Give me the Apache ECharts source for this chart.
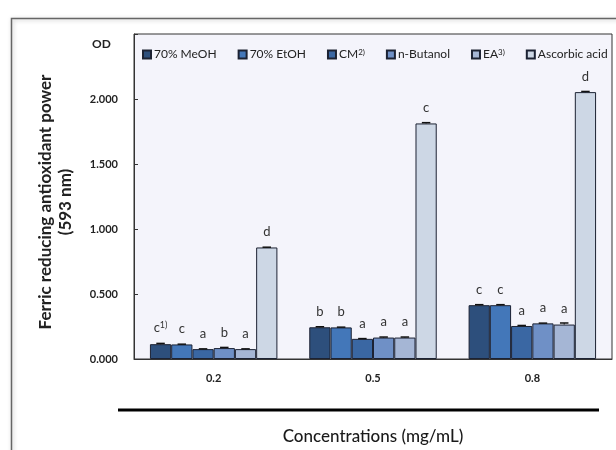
<!DOCTYPE html>
<html>
<head>
<meta charset="utf-8">
<script src="https://cdn.jsdelivr.net/npm/echarts@6/dist/echarts.min.js"></script>
<style>
  html, body { margin: 0; padding: 0; background: #fff; }
  #chart { width: 616px; height: 450px; }
</style>
</head>
<body>
<div id="chart"></div>
<script>
const concentrations = ['0.2', '0.5', '0.8'];
const seriesNames = ['70% MeOH', '70% EtOH', 'CM', 'n-Butanol', 'EA', 'Ascorbic acid'];

// OD values
const meoh = [0.114, 0.244, 0.414];
const etoh = [0.112, 0.243, 0.414];
const cm = [0.076, 0.155, 0.254];
const butanol = [0.084, 0.165, 0.274];
const ea = [0.076, 0.165, 0.265];
const ascorbic = [0.858, 1.812, 2.053];

// small error bars
const meohErr = [0.006, 0.004, 0.004];
const etohErr = [0.002, 0.002, 0.004];
const cmErr = [0.002, 0.002, 0.004];
const butanolErr = [0.005, 0.004, 0.002];
const eaErr = [0.002, 0.004, 0.012];
const ascorbicErr = [0.002, 0.006, 0.005];

// significance letters
const meohLetters = ['c', 'b', 'c'];
const etohLetters = ['c', 'b', 'c'];
const cmLetters = ['a', 'a', 'a'];
const butanolLetters = ['b', 'a', 'a'];
const eaLetters = ['a', 'a', 'a'];
const ascorbicLetters = ['d', 'c', 'd'];

const colors = ['#2d4f7c', '#4377b9', '#3a67a3', '#6f90c6', '#a5b6d5', '#cdd7e5'];

const values = [meoh, etoh, cm, butanol, ea, ascorbic];
const errors = [meohErr, etohErr, cmErr, butanolErr, eaErr, ascorbicErr];
const letters = [meohLetters, etohLetters, cmLetters, butanolLetters, eaLetters, ascorbicLetters];

const chart = echarts.init(document.getElementById('chart'));
const font = 'Lato, "Open Sans", sans-serif';
const gap = 0.2;

const barSeries = seriesNames.map((name, i) => ({
  name: name,
  type: 'bar',
  data: values[i],
  barGap: '0%',
  barCategoryGap: (gap * 100) + '%',
  itemStyle: { color: colors[i], borderColor: '#1c2233', borderWidth: 1 },
  label: {
    show: true,
    position: 'top',
    distance: 9,
    fontFamily: font,
    fontSize: 13,
    color: '#333',
    formatter: p => {
      const l = letters[i][p.dataIndex];
      return (i === 0 && p.dataIndex === 0) ? l + '{sup|1)}' : l;
    },
    rich: { sup: { fontSize: 9, verticalAlign: 'top', color: '#333', fontFamily: font, padding: [0, 0, 6, 0] } }
  },
  z: 2
}));

const errorSeries = seriesNames.map((name, i) => ({
  type: 'custom',
  name: name + ' err',
  data: values[i].map((v, k) => [k, v, errors[i][k]]),
  z: 3,
  silent: true,
  renderItem: (params, api) => {
    const k = api.value(0);
    const v = api.value(1);
    const e = api.value(2);
    const bandW = api.size([1, 0])[0];
    const bw = bandW * (1 - gap) / seriesNames.length;
    const base = api.coord([k, v]);
    const top = api.coord([k, v + e]);
    const x = base[0] + (i - (seriesNames.length - 1) / 2) * bw;
    const cap = bw * 0.2;
    return {
      type: 'group',
      children: [
        { type: 'line', shape: { x1: x, y1: base[1], x2: x, y2: top[1] }, style: { stroke: '#111', lineWidth: 1 } },
        { type: 'line', shape: { x1: x - cap, y1: top[1], x2: x + cap, y2: top[1] }, style: { stroke: '#111', lineWidth: 1.5 } }
      ]
    };
  }
}));

const option = {
  animation: false,
  backgroundColor: '#fff',
  textStyle: { fontFamily: font },
  grid: {
    left: 134, right: 4, top: 34, bottom: 88,
    show: true, backgroundColor: '#f4f4fb', borderColor: '#333', borderWidth: 1
  },
  legend: {
    data: seriesNames,
    left: 137, top: 43,
    itemWidth: 8, itemHeight: 8, itemGap: 21,
    icon: 'rect',
    textStyle: {
      fontFamily: font, fontSize: 12, color: '#222', padding: [0, 0, 0, -2],
      rich: { sup: { fontSize: 8, verticalAlign: 'top', fontFamily: font, color: '#222', padding: [0, 0, 5, 0] } }
    },
    formatter: n => n === 'CM' ? 'CM{sup|2)}' : (n === 'EA' ? 'EA{sup|3)}' : n)
  },
  xAxis: {
    type: 'category',
    data: concentrations,
    axisLine: { lineStyle: { color: '#333', width: 1 } },
    axisTick: { inside: true, length: 4, lineStyle: { color: '#333' } },
    axisLabel: { margin: 14, fontFamily: font, fontSize: 11, fontWeight: 'bold', color: '#222' },
    name: 'Concentrations (mg/mL)',
    nameLocation: 'middle',
    nameGap: 69,
    nameTextStyle: { fontFamily: font, fontSize: 17, fontWeight: 500, color: '#1a1a1a' }
  },
  yAxis: {
    type: 'value',
    min: 0, max: 2.5, interval: 0.5,
    splitLine: { show: false },
    axisLine: { show: true, lineStyle: { color: '#333' } },
    axisTick: { show: true, inside: true, length: 4, lineStyle: { color: '#333' } },
    axisLabel: {
      margin: 16, fontFamily: font, fontSize: 11, fontWeight: 'bold', color: '#222',
      formatter: v => v >= 2.5 ? '' : v.toFixed(3)
    }
  },
  graphic: [
    {
      type: 'rect', left: 9, top: 16, z: -10,
      shape: { width: 640, height: 460 },
      style: { fill: 'none', stroke: '#666', lineWidth: 1.5, shadowBlur: 4, shadowColor: 'rgba(0,0,0,0.25)', shadowOffsetX: 1, shadowOffsetY: 1 }
    },
    {
      type: 'line', z: 5,
      shape: { x1: 118, y1: 410, x2: 599, y2: 410 },
      style: { stroke: '#000', lineWidth: 3 }
    },
    {
      type: 'text', left: 92, top: 38,
      style: { text: 'OD', font: 'bold 12px ' + font, fill: '#222' }
    },
    {
      type: 'text', x: 56, y: 202, rotation: Math.PI / 2,
      style: {
        text: 'Ferric reducing antioxidant power\n(593 nm)',
        font: 'bold 17px ' + font, fill: '#222', lineHeight: 20,
        align: 'center', verticalAlign: 'middle'
      }
    }
  ],
  series: barSeries.concat(errorSeries)
};

chart.setOption(option);
</script>
</body>
</html>
